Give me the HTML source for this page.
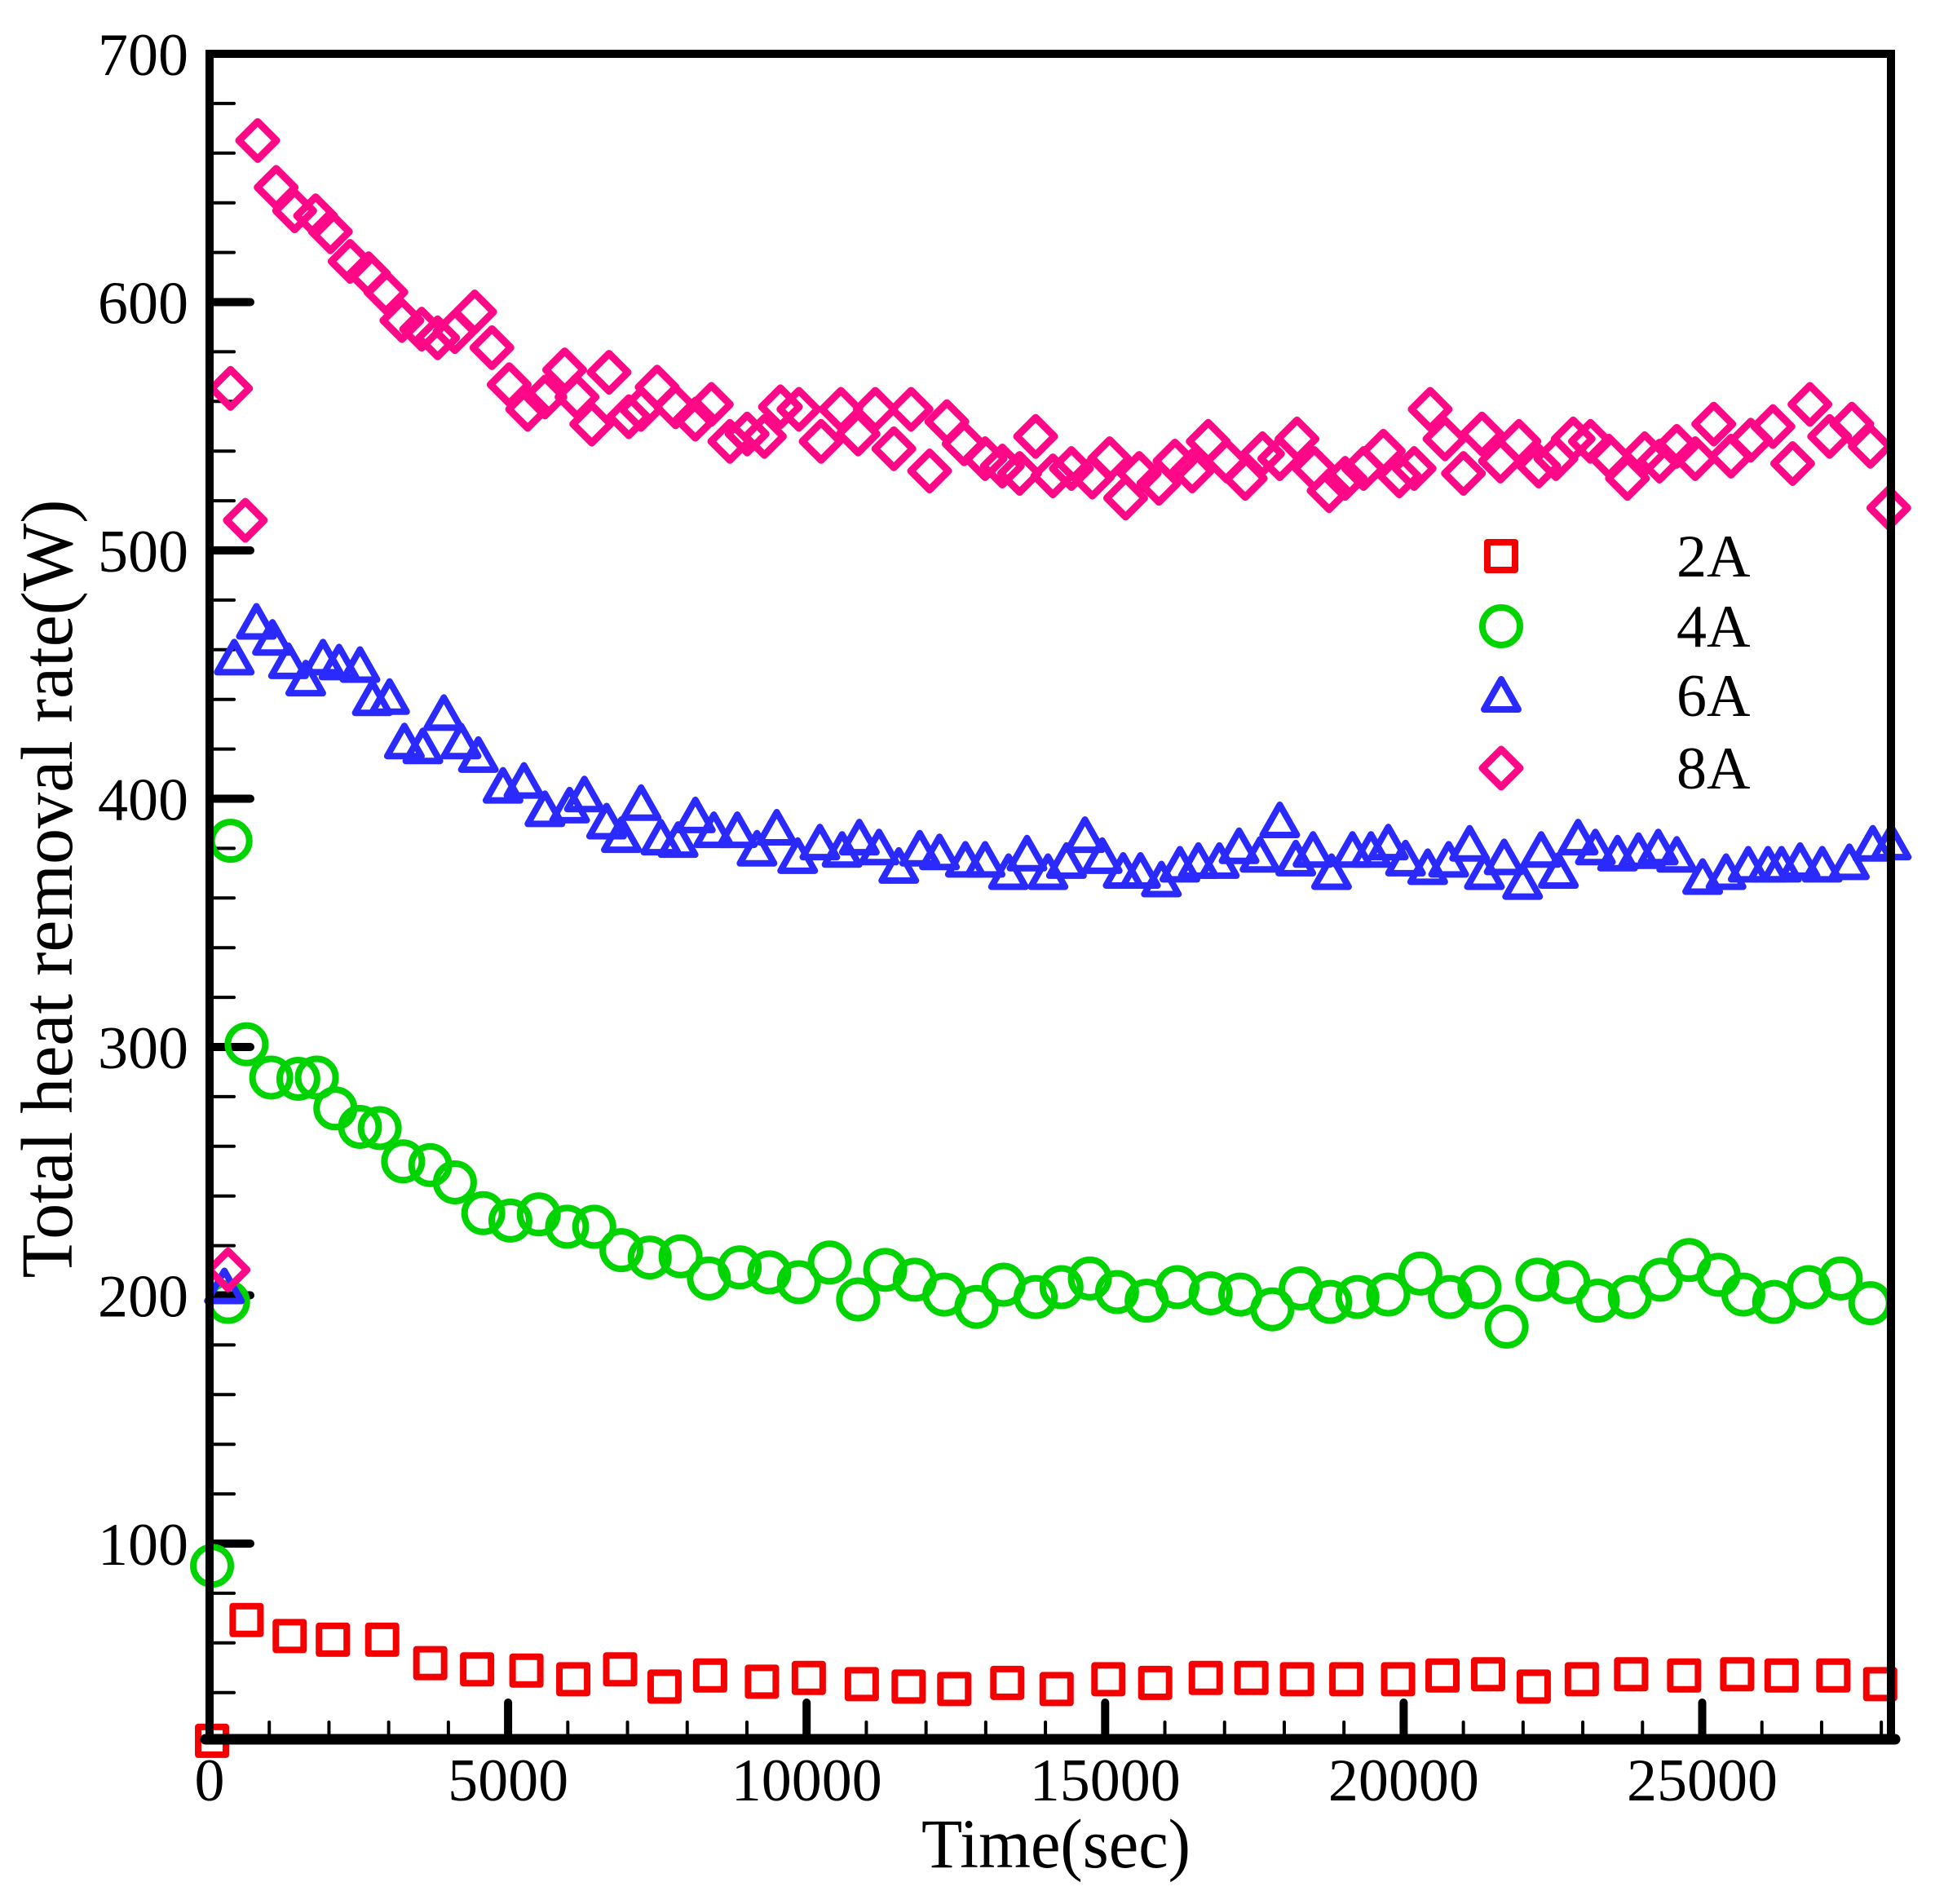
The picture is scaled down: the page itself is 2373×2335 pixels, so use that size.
<!DOCTYPE html>
<html><head><meta charset="utf-8"><style>
html,body{margin:0;padding:0;background:#fff}
svg{display:block}
text{font-family:"Liberation Serif",serif;fill:#000}
</style></head><body>
<svg id="s" width="2373" height="2335" viewBox="0 0 2373 2335" xmlns="http://www.w3.org/2000/svg">
<g id="ticks"></g>
<g id="data"></g>
<g id="axes" fill="none" stroke="#000">
<rect x="257" y="66" width="2062" height="2067" stroke-width="10"/>
<line x1="252" y1="2133" x2="2324" y2="2133" stroke-width="13" stroke-linecap="round"/>
</g>
<g id="labels"></g>
<text x="1295" y="2290" font-size="86" text-anchor="middle" textLength="330" lengthAdjust="spacingAndGlyphs">Time(sec)</text>
<text transform="translate(88,1090) rotate(-90)" font-size="90" text-anchor="middle" textLength="955" lengthAdjust="spacingAndGlyphs">Total heat removal rate(W)</text>
<g id="legend"></g>
</svg>
<script>
var NS="http://www.w3.org/2000/svg";
function el(t,a,p){var e=document.createElementNS(NS,t);for(var k in a)e.setAttribute(k,a[k]);if(p)p.appendChild(e);return e;}
var X0=257,PX=0.07322,Y0=66,PY=3.045;
function yv(v){return Y0+(700-v)*PY;}
function xv(t){return X0+t*PX;}
var tk=document.getElementById('ticks'),lb=document.getElementById('labels');
for(var v=40;v<=680;v+=20){var y=yv(v);var maj=(v%100==0);
 el('line',{x1:257,y1:y,x2:maj?307:287,y2:y,stroke:'#000','stroke-width':maj?10:4,'stroke-linecap':'round'},tk);}
for(var v=100;v<=700;v+=100){var t=el('text',{x:231,y:yv(v)+26,'font-size':74,'text-anchor':'end'},lb);t.textContent=v;}
for(var t=1000;t<=28000;t+=1000){var x=xv(t);var maj=(t%5000==0);
 el('line',{x1:x,y1:2133,x2:x,y2:maj?2088:2112,stroke:'#000','stroke-width':maj?10:4,'stroke-linecap':'round'},tk);}
for(var t=0;t<=25000;t+=5000){var e=el('text',{x:xv(t),y:2208,'font-size':74,'text-anchor':'middle'},lb);e.textContent=t;}
function F(d){return [1.512*d[0]+3,1.512*d[1]+3];}
var D=document.getElementById('data');
function sq(x,y,c,g){el('rect',{x:x-17,y:y-17,width:34,height:34,fill:'none',stroke:c,'stroke-width':8,'stroke-linejoin':'round'},g);}
function ci(x,y,c,g){el('circle',{cx:x,cy:y,r:23,fill:'none',stroke:c,'stroke-width':8},g);}
function tr(x,y,c,g){el('path',{d:'M'+x+' '+(y-20)+'L'+(x+21)+' '+(y+17)+'L'+(x-21)+' '+(y+17)+'Z',fill:'none',stroke:c,'stroke-width':8,'stroke-linejoin':'round'},g);}
function di(x,y,c,g){el('path',{d:'M'+x+' '+(y-23)+'L'+(x+23)+' '+y+'L'+x+' '+(y+23)+'L'+(x-23)+' '+y+'Z',fill:'none',stroke:c,'stroke-width':9,'stroke-linejoin':'round'},g);}
var RED='#f50000',GRN='#00d400',BLU='#2a2aff',PNK='#ff0888';
var s2=[[170,1410],[198,1312],[233,1325],[268,1328],[308,1328],[347,1347],[385,1352],[425,1353],[463,1360],[501,1352],[537,1366],[574,1357],[616,1362],[654,1359],[697,1364],[735,1366],[772,1368],[815,1363],[855,1368],[897,1360],[935,1363],[976,1359],[1013,1359],[1050,1360],[1090,1360],[1132,1360],[1168,1357],[1205,1356],[1242,1366],[1281,1360],[1321,1356],[1364,1357],[1407,1356],[1443,1357],[1485,1357],[1523,1364]];
var s4=[[170,1268],[183,1054],[185,680],[198,845],[218,872],[240,873],[255,872],[270,897],[290,912],[306,913],[325,940],[347,943],[367,957],[390,982],[412,988],[435,983],[458,993],[480,993],[502,1012],[525,1018],[550,1017],[573,1035],[598,1026],[622,1030],[646,1038],[671,1022],[694,1052],[716,1028],[740,1036],[764,1048],[790,1058],[812,1040],[838,1050],[859,1042],[882,1035],[904,1046],[928,1053],[953,1042],[980,1047],[1004,1048],[1030,1060],[1053,1043],[1077,1054],[1099,1050],[1124,1048],[1150,1031],[1174,1050],[1198,1042],[1220,1074],[1245,1036],[1270,1038],[1294,1053],[1320,1050],[1345,1036],[1368,1020],[1392,1032],[1412,1048],[1437,1054],[1465,1042],[1491,1035],[1515,1055]];
var s6=[[180,1042],[188,532],[206,503],[219,516],[232,535],[246,549],[260,532],[273,536],[290,538],[300,565],[314,564],[326,600],[341,604],[358,577],[372,600],[386,611],[406,636],[423,632],[440,655],[460,652],[472,643],[490,665],[502,676],[518,650],[534,678],[548,680],[562,660],[577,672],[596,672],[612,687],[628,670],[645,693],[663,682],[681,688],[695,678],[711,686],[727,701],[744,687],[760,690],[781,696],[797,696],[816,706],[831,691],[848,706],[863,697],[878,676],[892,693],[909,705],[923,705],[940,712],[955,700],[970,697],[987,697],[1003,685],[1020,692],[1036,664],[1049,695],[1063,688],[1078,706],[1095,688],[1110,688],[1124,682],[1138,695],[1156,702],[1173,696],[1190,683],[1202,706],[1218,694],[1233,714],[1248,688],[1262,705],[1278,678],[1292,686],[1310,691],[1327,689],[1343,686],[1358,692],[1379,710],[1398,706],[1416,700],[1432,700],[1443,700],[1458,697],[1476,700],[1498,698],[1517,683],[1532,682]];
var s8=[[183,1028],[185,313],[197,420],[207,112],[222,150],[237,169],[254,173],[266,186],[282,210],[297,220],[311,235],[324,258],[340,265],[353,272],[367,267],[383,251],[397,280],[411,310],[426,330],[440,320],[456,298],[466,320],[478,342],[492,300],[508,336],[518,330],[531,312],[546,328],[562,338],[575,326],[590,356],[604,350],[618,352],[631,328],[646,330],[664,356],[680,330],[694,350],[708,330],[723,362],[737,330],[752,380],[766,340],[780,358],[797,370],[811,376],[825,382],[838,352],[852,384],[867,378],[884,385],[898,370],[911,402],[922,382],[938,390],[951,372],[965,380],[978,356],[993,372],[1008,386],[1022,366],[1036,370],[1050,354],[1064,378],[1076,396],[1089,386],[1104,378],[1120,364],[1133,384],[1145,378],[1158,330],[1170,354],[1185,382],[1200,350],[1215,372],[1230,356],[1246,376],[1260,370],[1274,354],[1288,356],[1303,368],[1318,386],[1332,366],[1344,372],[1358,360],[1373,370],[1388,342],[1402,368],[1418,355],[1436,344],[1452,374],[1466,326],[1482,352],[1500,342],[1515,360],[1530,410]];
s2.forEach(function(d){var p=F(d);sq(p[0],p[1],RED,D);});
s4.forEach(function(d){var p=F(d);ci(p[0],p[1],GRN,D);});
s6.forEach(function(d){var p=F(d);tr(p[0],p[1],BLU,D);});
s8.forEach(function(d){var p=F(d);di(p[0],p[1],PNK,D);});
var L=document.getElementById('legend');
sq(1841,682,RED,L);ci(1841,768,GRN,L);tr(1841,853,BLU,L);di(1841,942,PNK,L);
[['2A',682],['4A',768],['6A',853],['8A',942]].forEach(function(a){var t=el('text',{x:2056,y:a[1]+25,'font-size':74},L);t.textContent=a[0];});
</script>
</body></html>
